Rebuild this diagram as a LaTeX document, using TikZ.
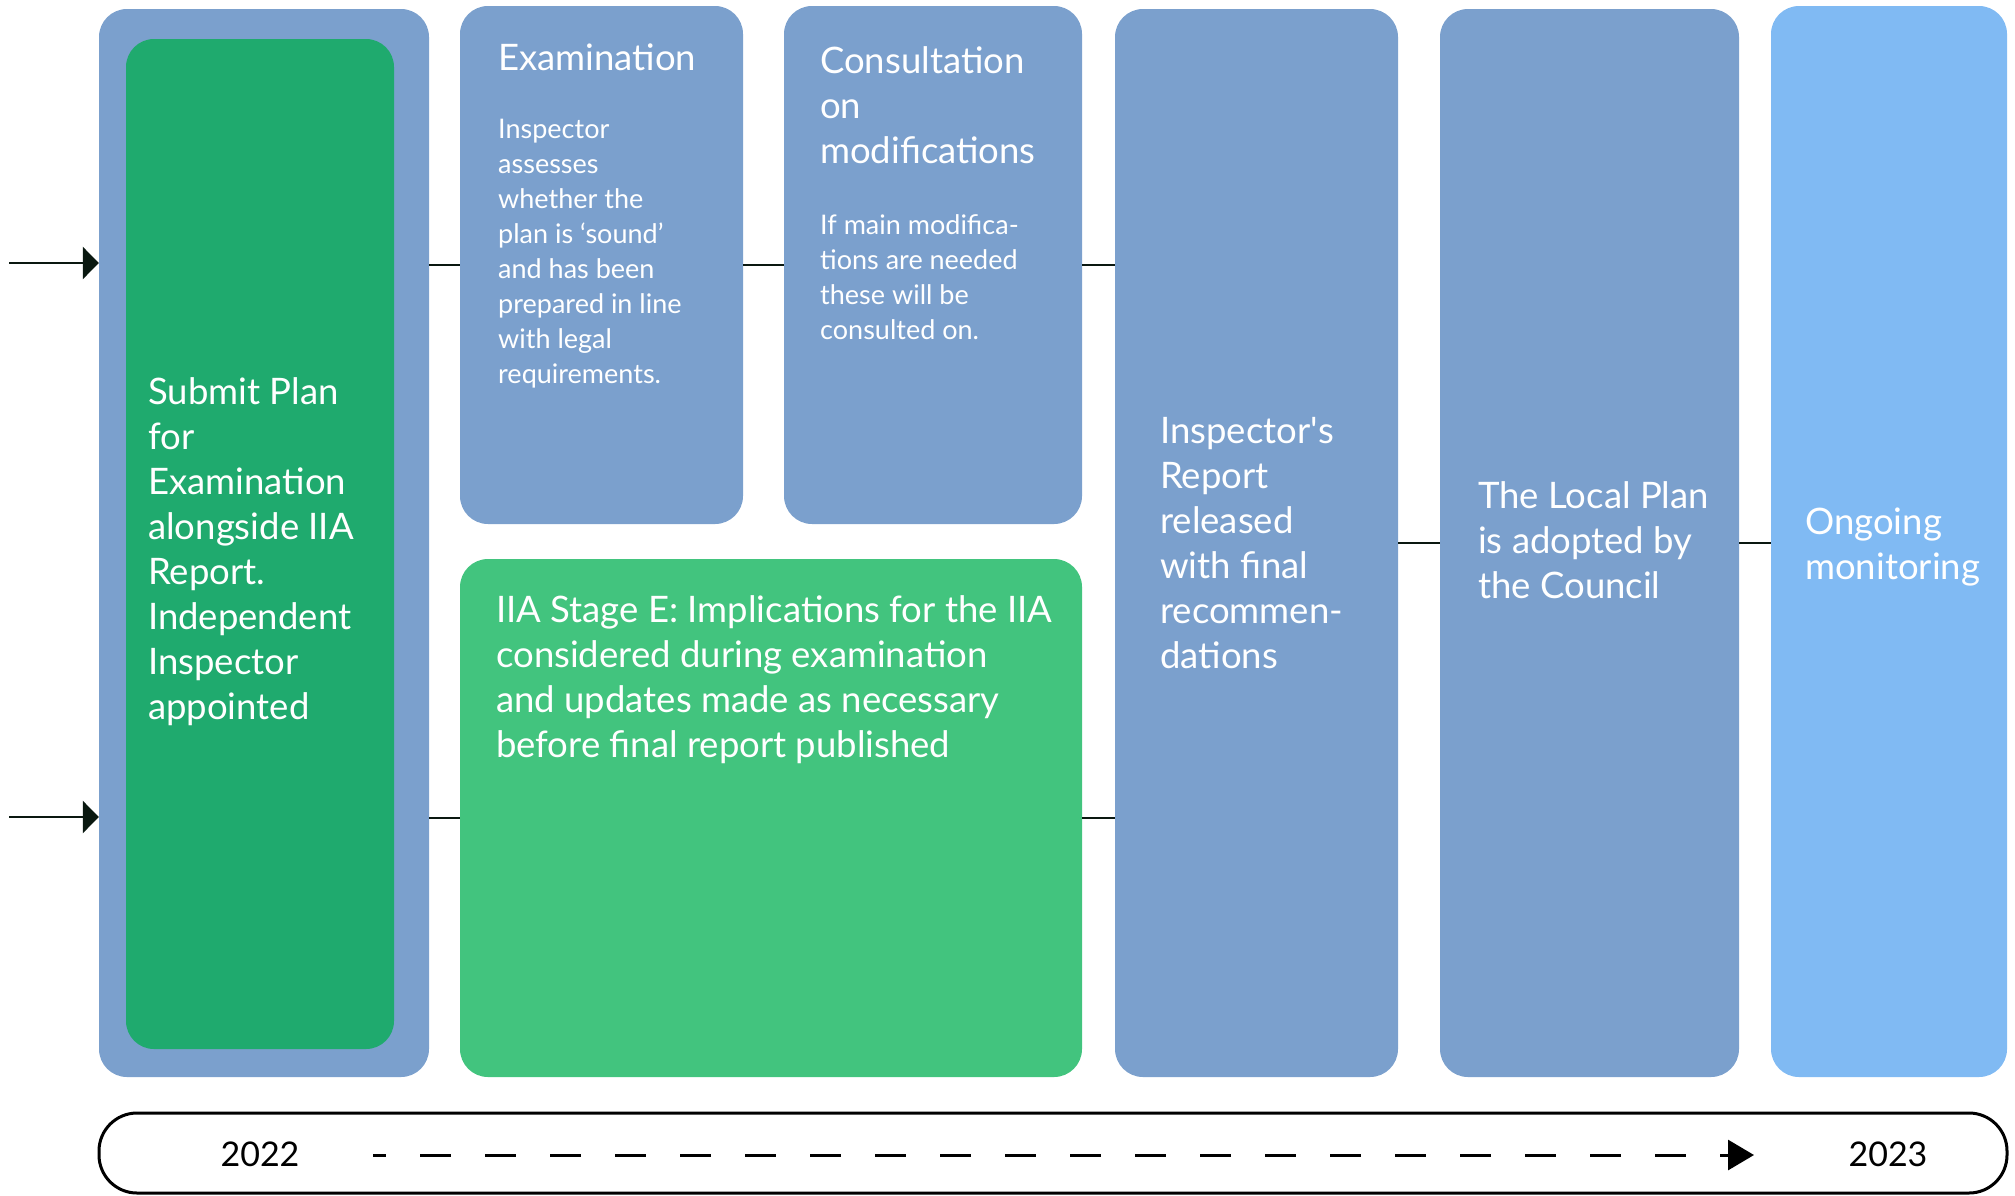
\documentclass[tikz,border=0pt]{standalone}
\usepackage{fontspec}
\setmainfont{Lato}
\usetikzlibrary{arrows.meta}
\definecolor{stageblue}{RGB}{123,160,205}
\definecolor{submitgreen}{RGB}{31,170,110}
\definecolor{iiagreen}{RGB}{66,196,126}
\definecolor{monitorblue}{RGB}{128,186,243}
\definecolor{arrowdark}{RGB}{10,24,16}

\begin{document}
\begin{tikzpicture}[x=1pt, y=-1pt,
    stage/.style={rectangle, rounded corners=28pt, inner sep=0pt, draw=none},
    bigtext/.style={text=white, align=left, inner sep=0pt, font=\fontsize{36.5}{45}\selectfont},
    smalltext/.style={text=white, align=left, inner sep=0pt, font=\fontsize{27}{35}\selectfont},
    yeartext/.style={text=black, inner sep=0pt, font=\fontsize{34}{40}\selectfont},
    link/.style={draw=arrowdark, line width=2.5pt},
    inarrow/.style={draw=arrowdark, line width=2.5pt, -{Triangle[length=16pt, width=32pt]}},
  ]
  \useasboundingbox (0,0) rectangle (2015,1195);

  \node[stage, fill=stageblue, minimum width=330pt, minimum height=1068pt] (outer) at (264,543) {};
  \node[stage, fill=submitgreen, minimum width=268pt, minimum height=1010pt] (submit) at (260,544) {};
  \node[stage, fill=stageblue, minimum width=283pt, minimum height=518pt] (exam) at (601.5,265) {};
  \node[stage, fill=stageblue, minimum width=298pt, minimum height=518pt] (consult) at (933,265) {};
  \node[stage, fill=iiagreen, minimum width=622pt, minimum height=518pt] (iia) at (771,818) {};
  \node[stage, fill=stageblue, minimum width=283pt, minimum height=1068pt] (report) at (1256.5,543) {};
  \node[stage, fill=stageblue, minimum width=299pt, minimum height=1068pt] (adopt) at (1589.5,543) {};
  \node[stage, fill=monitorblue, minimum width=236pt, minimum height=1071pt] (monitor) at (1889,541.5) {};

  \node[bigtext, anchor=west] (submittext) at (148,552) {Submit Plan\\for\\Examination\\alongside IIA\\Report.\\Independent\\Inspector\\appointed};
  \node[bigtext, anchor=north west] (examtitle) at (498,44) {Examination};
  \node[smalltext, anchor=north west] (exambody) at (498,119) {Inspector\\assesses\\whether the\\plan is `sound'\\and has been\\prepared in line\\with legal\\requirements.};
  \node[bigtext, anchor=north west] (consulttitle) at (820,46) {Consultation\\on\\modifications};
  \node[smalltext, anchor=north west] (consultbody) at (820,214) {If main modifica-\\tions are needed\\these will be\\consulted on.};
  \node[bigtext, anchor=north west] (iiatext) at (496,595) {IIA Stage E: Implications for the IIA\\considered during examination\\and updates made as necessary\\before final report published};
  \node[bigtext, anchor=west] (reporttext) at (1160,543) {Inspector\textquotesingle s\\Report\\released\\with final\\recommen-\\dations};
  \node[bigtext, anchor=west] (adopttext) at (1478,540) {The Local Plan\\is adopted by\\the Council};
  \node[bigtext, anchor=west] (monitortext) at (1805,547) {Ongoing\\monitoring};

  \draw[link] (exam.west) -- (exam.west -| outer.east);
  \draw[link] (exam.east) -- (consult.west);
  \draw[link] (consult.east) -- (consult.east -| report.west);
  \draw[link] (iia.west) -- (iia.west -| outer.east);
  \draw[link] (iia.east) -- (iia.east -| report.west);
  \draw[link] (report.east) -- (adopt.west);
  \draw[link] (adopt.east) -- (adopt.east -| monitor.west);

  \coordinate (intop) at (9,263);
  \coordinate (inbottom) at (9,817);
  \draw[inarrow] (intop) -- (intop -| outer.west);
  \draw[inarrow] (inbottom) -- (inbottom -| outer.west);

  \node[rectangle, draw=black, line width=3pt, rounded corners=38pt, minimum width=1908pt, minimum height=80pt] (timeline) at (1053,1153) {};
  \node[yeartext] (startyear) at (260,1154) {2022};
  \node[yeartext] (endyear) at (1888,1154) {2023};
  \coordinate (dashfrom) at (373,1155);
  \coordinate (dashto) at (1754,1155);
  \draw[line width=3pt, dash pattern=on 31pt off 34pt, dash phase=18pt, -{Triangle[length=26pt, width=30pt]}] (dashfrom) -- (dashto);
\end{tikzpicture}
\end{document}
